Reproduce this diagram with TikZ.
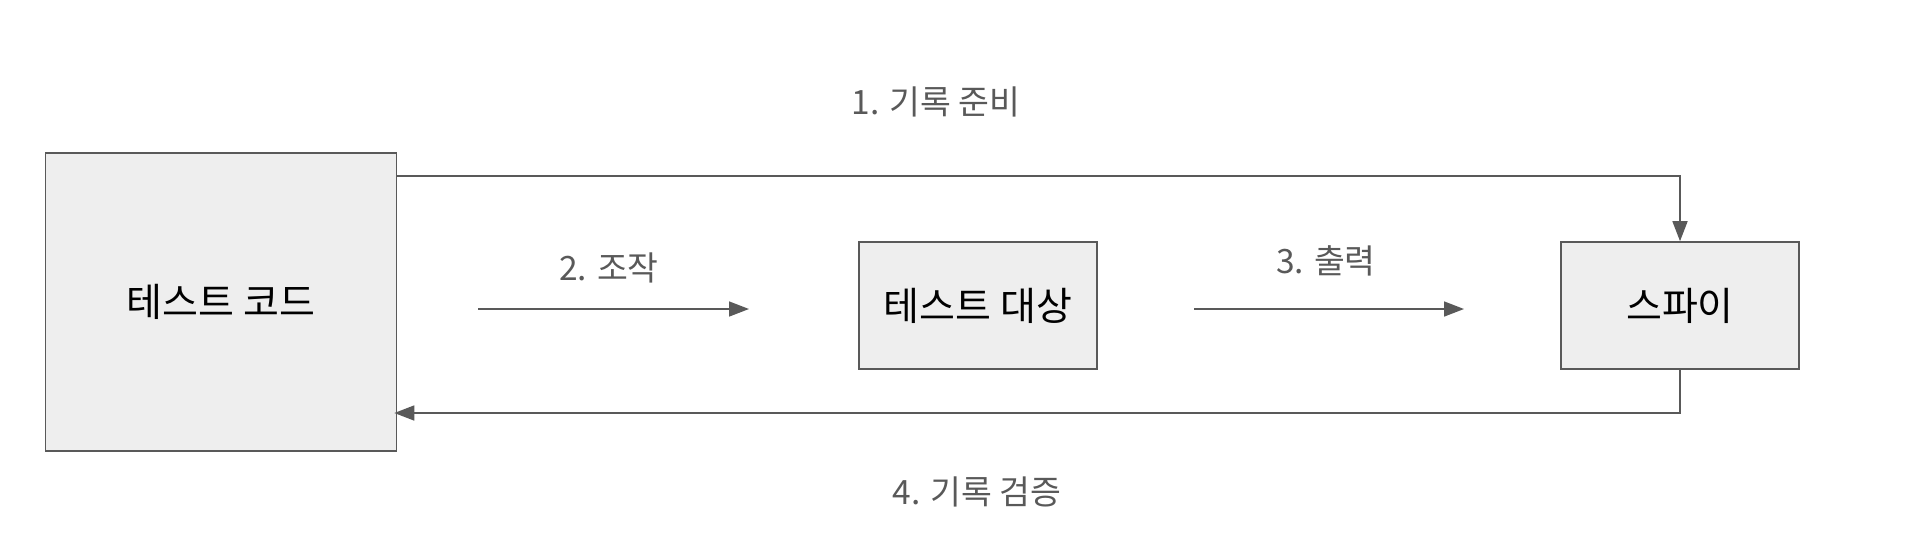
\documentclass[tikz,border=0pt]{standalone}
\usepackage{fontspec}
\setmainfont{Noto Sans CJK KR}
\usetikzlibrary{arrows.meta}
\definecolor{linegray}{HTML}{595959}
\definecolor{boxfill}{HTML}{EEEEEE}
\tikzset{
  box/.style={draw=linegray, fill=boxfill, line width=1.6pt, inner sep=0pt,
    font=\fontsize{39}{44}\selectfont},
  lbl/.style={text=linegray, font=\fontsize{33.5}{38}\selectfont},
  arr/.style={draw=linegray, line width=1.6pt, -{Triangle[length=20pt,width=15pt]}}
}
\begin{document}
\begin{tikzpicture}[x=1pt,y=-1pt]
\useasboundingbox (0,0) rectangle (1918,558);
% boxes
\node[box, minimum width=351pt, minimum height=298pt] (code) at (221,302) {테스트 코드};
\node[box, minimum width=238pt, minimum height=127pt] (target) at (978,305.5) {테스트 대상};
\node[box, minimum width=238pt, minimum height=127pt] (spy) at (1680,305.5) {스파이};
% labels
\node[lbl] (rec) at (936,102) {1. 기록 준비};
\node[lbl] (act) at (609,268) {2. 조작};
\node[lbl] (out) at (1326,261) {3. 출력};
\node[lbl] (ver) at (977,492) {4. 기록 검증};
% connectors
\coordinate (top) at (1680,176);
\coordinate (bot) at (1680,413);
\coordinate (s2) at (478,309);
\coordinate (e2) at (749,309);
\coordinate (s3) at (1194,309);
\coordinate (e3) at (1464,309);
\draw[arr] (code.east |- top) -- (top) -- (spy.north);
\draw[arr] (s2) -- (e2);
\draw[arr] (s3) -- (e3);
\draw[arr] (spy.south) -- (bot) -- ([xshift=-3pt]code.east |- bot);
\end{tikzpicture}
\end{document}
